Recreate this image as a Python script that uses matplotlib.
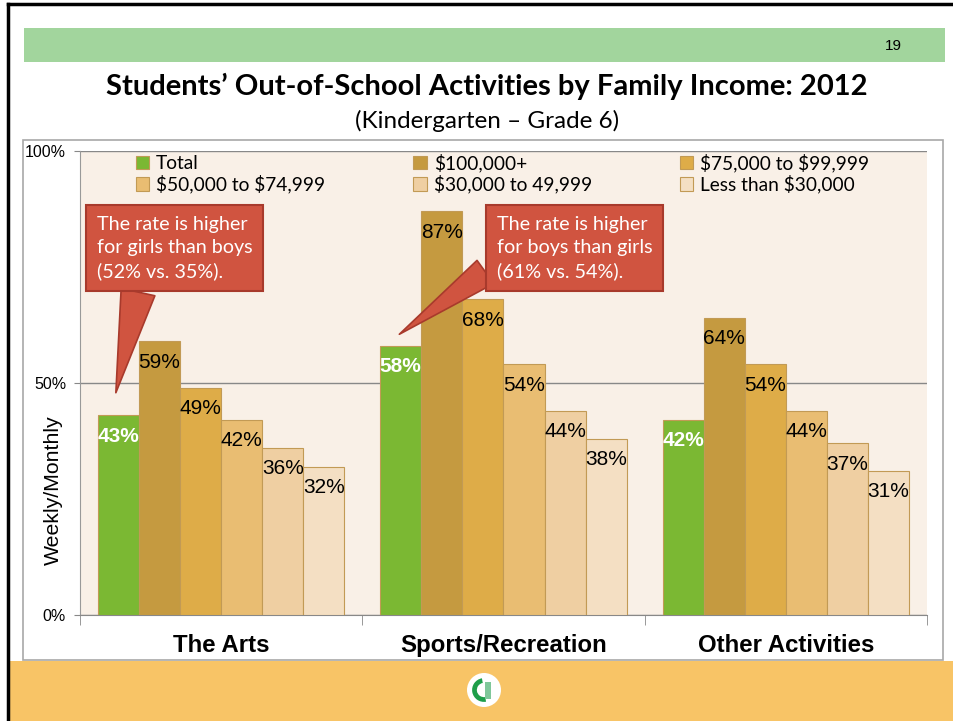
import numpy as np
import matplotlib
matplotlib.use("Agg")
import matplotlib.pyplot as plt
from matplotlib.patches import Rectangle, Circle, Wedge

plt.rcParams["text.parse_math"] = False

# data
categories = ["The Arts", "Sports/Recreation", "Other Activities"]
series = ["Total", "$100,000+", "$75,000 to $99,999",
          "$50,000 to $74,999", "$30,000 to 49,999", "Less than $30,000"]
total = [43, 58, 42]
inc_100k = [59, 87, 64]
inc_75k = [49, 68, 54]
inc_50k = [42, 54, 44]
inc_30k = [36, 44, 37]
inc_lt30k = [32, 38, 31]
values = [total, inc_100k, inc_75k, inc_50k, inc_30k, inc_lt30k]
yticks = [0, 50, 100]
ytick_labels = ["0%", "50%", "100%"]

colors = ["#7BB833", "#C59A40", "#DEAC48", "#E9BD72", "#EFCFA2", "#F4DFC3"]
edge = "#C29A55"

W, H = 954, 721
fig = plt.figure(figsize=(9.54, 7.21), dpi=100)
fig.patch.set_facecolor("white")

def px(x0, y0, x1, y1):
    # figure-fraction rectangle from pixel box (top-left origin)
    return (x0 / W, 1 - y1 / H), (x1 - x0) / W, (y1 - y0) / H

# slide decoration
xy, w, h = px(24, 28, 945, 62)
fig.patches.append(Rectangle(xy, w, h, transform=fig.transFigure, fc="#A2D59D", ec="none", zorder=-2))
xy, w, h = px(10, 661, 954, 721)
fig.patches.append(Rectangle(xy, w, h, transform=fig.transFigure, fc="#F8C466", ec="none", zorder=-2))
xy, w, h = px(23, 140, 943, 660)
fig.patches.append(Rectangle(xy, w, h, transform=fig.transFigure, fc="white", ec="#A8A8A8", lw=1.2, zorder=-2))
fig.add_artist(plt.Line2D([8 / W, 8 / W], [0, 1 - 4 / H], transform=fig.transFigure, color="black", lw=2.5))
fig.add_artist(plt.Line2D([8 / W, 1], [1 - 4 / H, 1 - 4 / H], transform=fig.transFigure, color="black", lw=2.5))

# logo
lg = fig.add_axes([467 / W, 1 - 707 / H, 34 / W, 34 / H])
lg.set_xlim(-1, 1); lg.set_ylim(-1, 1); lg.axis("off")
lg.add_patch(Circle((0, 0), 1.0, fc="white", ec="none"))
lg.add_patch(Wedge((0, 0), 0.7, 100, 280, width=0.28, fc="#1E9E4A"))
lg.add_patch(Rectangle((0.05, -0.55), 0.35, 1.0, fc="#7FC79A", ec="none"))

fig.text(893 / W, 1 - 46 / H, "19", fontsize=11, family="Liberation Sans", ha="center", va="center")
fig.text(487 / W, 1 - 86 / H, "Students\u2019 Out-of-School Activities by Family Income: 2012",
         fontsize=21, family="Lato", weight="bold", ha="center", va="center")
fig.text(487 / W, 1 - 121 / H, "(Kindergarten \u2013 Grade 6)",
         fontsize=17.5, family="Lato", ha="center", va="center")

# chart
ax = fig.add_axes([80 / W, 1 - 615 / H, 847 / W, 464 / H])
ax.set_facecolor("#F9F0E7")
x = np.arange(len(categories))
bw = 0.1456
handles = []
for i, (name, vals) in enumerate(zip(series, values)):
    pos = x + (i - 2.5) * bw
    bars = ax.bar(pos, vals, bw, color=colors[i], edgecolor=edge, linewidth=0.8, label=name, zorder=3)
    handles.append(bars)
    for p, v in zip(pos, vals):
        if i == 0:
            ax.annotate(f"{v}%", (p, v), xytext=(0, -15), textcoords="offset points",
                        ha="center", va="center", color="white", weight="bold",
                        fontsize=15, family="Liberation Sans", zorder=4)
        else:
            ax.annotate(f"{v}%", (p, v), xytext=(0, -15), textcoords="offset points",
                        ha="center", va="center", color="black",
                        fontsize=15, family="Liberation Sans", zorder=4)

ax.set_xlim(-0.5, 2.5)
ax.set_ylim(0, 100)
ax.set_yticks(yticks)
ax.set_yticklabels(ytick_labels, family="Liberation Sans", fontsize=11.5)
ax.tick_params(axis="y", length=4, color="#888888", pad=6)
ax.set_xticks(x)
ax.set_xticklabels(categories, family="Liberation Sans", weight="bold", fontsize=17.3)
ax.set_xticks([-0.5, 0.5, 1.5, 2.5], minor=True)
ax.tick_params(axis="x", which="major", length=0, pad=14)
ax.tick_params(axis="x", which="minor", length=7, color="#888888")
for s in ["top", "right"]:
    ax.spines[s].set_visible(False)
ax.spines["left"].set_color("#999999")
ax.spines["bottom"].set_color("#888888")
ax.yaxis.grid(True, color="#888888", lw=1, zorder=1)
ax.set_axisbelow(True)
ax.set_ylabel("Weekly/Monthly", family="Liberation Sans", fontsize=15.3)
ax.yaxis.set_label_coords(-0.020, 0.27)

order = [0, 3, 1, 4, 2, 5]
leg = ax.legend([handles[k] for k in order], [series[k] for k in order], ncol=3,
                loc="upper left", bbox_to_anchor=(0.0526, 1.019), frameon=False,
                prop={"family": "Lato", "size": 13.8}, handlelength=0.7, handleheight=0.7,
                handletextpad=0.35, columnspacing=4.6, labelspacing=0.15, borderpad=0.1)

red = "#D05440"
dark = "#A83A2C"
c1 = ax.annotate("The rate is higher\nfor girls than boys\n(52% vs. 35%).", xy=(-0.373, 47.9),
                 xytext=((97 - 80) / 847, (615 - 248) / 464), textcoords="axes fraction",
                 ha="left", va="center", color="white", fontsize=14.2, family="Lato",
                 linespacing=1.45, zorder=6,
                 bbox=dict(boxstyle="square,pad=0.55", fc=red, ec=dark, lw=1.5),
                 arrowprops=dict(arrowstyle="wedge,tail_width=1.75", fc=red, ec=dark, lw=1.2,
                                 relpos=(0.28, 0.0), shrinkA=0, shrinkB=0))
c2 = ax.annotate("The rate is higher\nfor boys than girls\n(61% vs. 54%).", xy=(0.631, 60.5),
                 xytext=((497 - 80) / 847, (615 - 248) / 464), textcoords="axes fraction",
                 ha="left", va="center", color="white", fontsize=14.2, family="Lato",
                 linespacing=1.45, zorder=6,
                 bbox=dict(boxstyle="square,pad=0.55", fc=red, ec=dark, lw=1.5),
                 arrowprops=dict(arrowstyle="wedge,tail_width=1.45", fc=red, ec=dark, lw=1.2,
                                 relpos=(0.0, 0.26), shrinkA=0, shrinkB=0))

fig.savefig("out.png", dpi=100)
